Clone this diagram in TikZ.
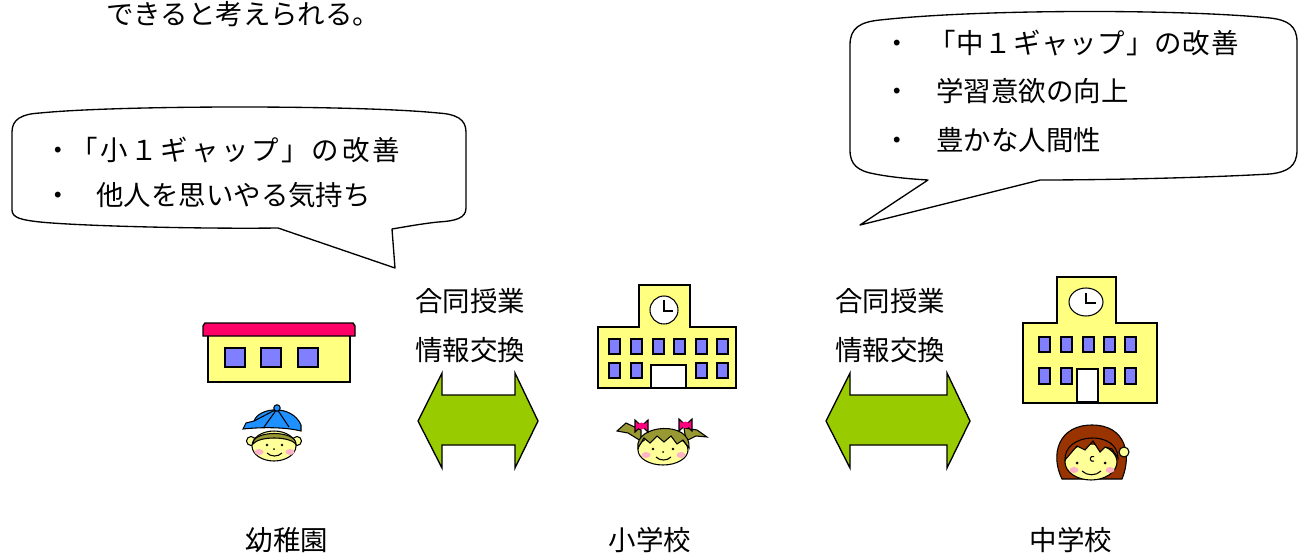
\documentclass[tikz,border=0pt]{standalone}
\usepackage{fontspec}
\setmainfont{Noto Sans CJK JP}
\newfontfamily\jpwideA[LetterSpace=10]{Noto Sans CJK JP}
\newfontfamily\jpwideB[LetterSpace=3]{Noto Sans CJK JP}
\definecolor{bldgyellow}{HTML}{FFFF80}
\definecolor{faceyellow}{HTML}{FFFF99}
\definecolor{winblue}{HTML}{7F7FFF}
\definecolor{roofpink}{HTML}{FF0066}
\definecolor{arrowgreen}{HTML}{99CC00}
\definecolor{capblue}{HTML}{1E90FF}
\definecolor{hairolive}{HTML}{999933}
\definecolor{hairbrown}{HTML}{993300}
\definecolor{cheekpink}{HTML}{FFB3C6}
\definecolor{ribbonpink}{HTML}{FF0080}
\begin{document}
\begin{tikzpicture}[x=0.75pt,y=-0.75pt,
  jtext/.style={font=\fontsize{20.6}{24}\selectfont, inner sep=0pt, text=black},
  callout/.style={draw=black, line width=1pt, fill=white, line join=round},
  bldg/.style={draw=black, line width=1.1pt, fill=bldgyellow},
  win/.style={draw=black, line width=0.9pt, fill=winblue},
  door/.style={draw=black, line width=0.9pt, fill=white},
  dblarrow/.style={draw=black, line width=1pt, fill=arrowgreen, line join=miter},
  outl/.style={draw=black, line width=0.8pt},
  cheek/.style={fill=cheekpink},
]
\useasboundingbox (0,0) rectangle (1300,553);

% heading line
\node[jtext, anchor=base west] (lead) at (106,24) {できると考えられる。};

% ---------- left speech balloon ----------
\draw[callout] (12,210) -- (12,132)
  .. controls (12,119) and (22,114) .. (40,113)
  .. controls (120,105) and (360,105) .. (438,113)
  .. controls (456,114) and (466,119) .. (466,132)
  -- (466,208)
  .. controls (466,218) and (456,221) .. (438,222)
  .. controls (420,224) and (404,227) .. (392,229)
  -- (395,268) -- (278,228)
  .. controls (200,229) and (80,226) .. (40,222)
  .. controls (22,220) and (12,218) .. (12,210) -- cycle;
\node[jtext, anchor=base] (lb1) at (58,160) {・};
\node[jtext, anchor=base west] (lt1) at (70,160) {\jpwideA 「小１ギャップ」の改善};
\node[jtext, anchor=base] (lb2) at (58,205) {・};
\node[jtext, anchor=base west] (lt2) at (96,205) {他人を思いやる気持ち};

% ---------- right speech balloon ----------
\draw[callout] (850,150) -- (850,45)
  .. controls (850,28) and (860,22) .. (880,20)
  .. controls (980,9) and (1180,9) .. (1270,18)
  .. controls (1288,20) and (1297,26) .. (1297,42)
  -- (1297,150)
  .. controls (1297,166) and (1288,172) .. (1270,174)
  .. controls (1200,178) and (1100,180) .. (1040,180)
  -- (860,225) -- (928,180)
  .. controls (910,179) and (890,177) .. (875,174)
  .. controls (858,171) and (850,165) .. (850,150) -- cycle;
\node[jtext, anchor=base] (rb1) at (897,53) {・};
\node[jtext, anchor=base west] (rt1) at (928,53) {\jpwideB 「中１ギャップ」の改善};
\node[jtext, anchor=base] (rb2) at (897,101) {・};
\node[jtext, anchor=base west] (rt2) at (936,101) {学習意欲の向上};
\node[jtext, anchor=base] (rb3) at (897,150) {・};
\node[jtext, anchor=base west] (rt3) at (936,150) {豊かな人間性};

% ---------- kindergarten building ----------
\draw[bldg] (208,335) rectangle (350,382);
\draw[draw=black, line width=1.1pt, fill=roofpink]
  (203,326) -- (205,323) -- (353,323) -- (355,326) -- (355,336) -- (203,336) -- cycle;
\foreach \x in {225,261,298}
  \draw[win] (\x,348) rectangle (\x+20,367);

% ---------- elementary school building ----------
\draw[bldg] (598,388) -- (598,327) -- (639,327) -- (639,285) -- (690,285)
  -- (690,327) -- (736,327) -- (736,388) -- cycle;
\draw[outl, fill=white] (664,310) circle (14);
\draw[outl] (664,300) -- (664,311) -- (673,311);
\foreach \x in {609,631,653,674,696,717}
  \draw[win] (\x,339) rectangle (\x+11,354);
\foreach \x in {609,631,696,717}
  \draw[win] (\x,363) rectangle (\x+11,378);
\draw[door] (651,365) rectangle (686,388);

% ---------- junior high school building ----------
\draw[bldg] (1023,403) -- (1023,323) -- (1057,323) -- (1057,277) -- (1116,277)
  -- (1116,323) -- (1157,323) -- (1157,403) -- cycle;
\draw[outl, fill=white] (1086,302) ellipse (17 and 14);
\draw[outl] (1086,293) -- (1086,303) -- (1096,303);
\foreach \x in {1039,1061,1083,1104,1125}
  \draw[win] (\x,337) rectangle (\x+11,352);
\foreach \x in {1039,1061,1104,1125}
  \draw[win] (\x,368) rectangle (\x+11,384);
\draw[door] (1077,369) rectangle (1098,402);

% ---------- two-way arrows ----------
\draw[dblarrow] (418,421) -- (442,373) -- (442,395) -- (515,395) -- (515,373)
  -- (538,421) -- (515,468) -- (515,445) -- (442,445) -- (442,468) -- cycle;
\draw[dblarrow] (826,421) -- (850,373) -- (850,395) -- (947,395) -- (947,373)
  -- (970,421) -- (947,468) -- (947,445) -- (850,445) -- (850,468) -- cycle;

\node[jtext, anchor=base west] (ex1a) at (415,311) {合同授業};
\node[jtext, anchor=base west] (ex1b) at (415,360) {情報交換};
\node[jtext, anchor=base west] (ex2a) at (835,311) {合同授業};
\node[jtext, anchor=base west] (ex2b) at (835,360) {情報交換};

% ---------- boy with cap ----------
\draw[outl, fill=faceyellow] (251,441) circle (4.5);
\draw[outl, fill=faceyellow] (297,441) circle (4.5);
\draw[outl, fill=faceyellow] (274,446) ellipse (22 and 15);
\draw[outl, fill=hairolive] (253,444) .. controls (252,430) and (296,430) .. (296,444)
  .. controls (289,436) and (259,436) .. (253,444) -- cycle;
\draw[outl, fill=capblue] (243,429) -- (246,423) -- (254,421)
  .. controls (259,407) and (292,404) .. (301,425) -- (301,431)
  .. controls (285,427) and (262,427) .. (243,429) -- cycle;
\draw[outl] (277,409) -- (264,427) (277,409) -- (289,427) (277,409) -- (254,421);
\draw[outl, fill=capblue] (277,408) circle (3.2);
\fill[cheek] (259,452) ellipse (4.5 and 3);
\fill[cheek] (290,452) ellipse (4.5 and 3);
\fill (267,445) circle (1.4);
\fill (282,445) circle (1.4);
\fill (274,449) circle (1);
\draw[outl] (267,453) .. controls (271,457) and (278,457) .. (282,453);

% ---------- girl with pigtails ----------
\draw[outl, fill=hairolive] (641,430) -- (626,423) -- (617,431) -- (628,433) -- (641,441) -- cycle;
\draw[outl, fill=hairolive] (684,428) -- (697,430) -- (707,437) -- (696,436) -- (686,441) -- cycle;
\draw[outl, fill=faceyellow] (663,450) ellipse (25 and 15);
\draw[outl, fill=hairolive] (638,448) .. controls (634,424) and (692,420) .. (689,448)
  -- (683,440) -- (677,444) -- (671,436) -- (664,442) -- (657,436) -- (650,443) -- (644,438) -- cycle;
\draw[outl, fill=ribbonpink] (635,420) -- (648,432) -- (648,420) -- (635,432) -- cycle;
\fill[ribbonpink] (641.5,426) circle (3.5);
\draw[outl, fill=ribbonpink] (679,419) -- (692,431) -- (692,419) -- (679,431) -- cycle;
\fill[ribbonpink] (685.5,425) circle (3.5);
\fill[cheek] (646,455) ellipse (4.5 and 3);
\fill[cheek] (681,455) ellipse (4.5 and 3);
\fill (653,449) circle (1.4);
\fill (673,449) circle (1.4);
\fill (663,452) circle (1);
\draw[outl] (656,457) .. controls (660,461) and (667,461) .. (671,457);

% ---------- girl with brown hair ----------
\draw[outl, fill=hairbrown] (1062,479) .. controls (1050,455) and (1058,425) .. (1092,425)
  .. controls (1126,425) and (1132,455) .. (1122,479) -- cycle;
\draw[outl, fill=faceyellow] (1124,452) circle (5);
\draw[outl, fill=faceyellow] (1091,462) ellipse (26 and 18);
\draw[outl, fill=hairbrown] (1065,460) .. controls (1064,432) and (1118,430) .. (1118,458)
  -- (1112,449) -- (1105,447) -- (1100,452) -- (1093,441) -- (1085,450) -- (1077,446) -- (1071,453) -- cycle;
\fill[cheek] (1074,470) ellipse (4.5 and 3);
\fill[cheek] (1110,470) ellipse (4.5 and 3);
\fill (1077,463) circle (1.5);
\fill (1105,463) circle (1.5);
\draw[outl] (1094,461) arc (60:300:2.5);
\draw[outl] (1082,471) .. controls (1087,476) and (1096,476) .. (1101,471);

% ---------- captions ----------
\node[jtext, anchor=base] (kinder) at (287,550) {幼稚園};
\node[jtext, anchor=base] (elem) at (650,550) {小学校};
\node[jtext, anchor=base] (junior) at (1071,550) {中学校};
\end{tikzpicture}
\end{document}
